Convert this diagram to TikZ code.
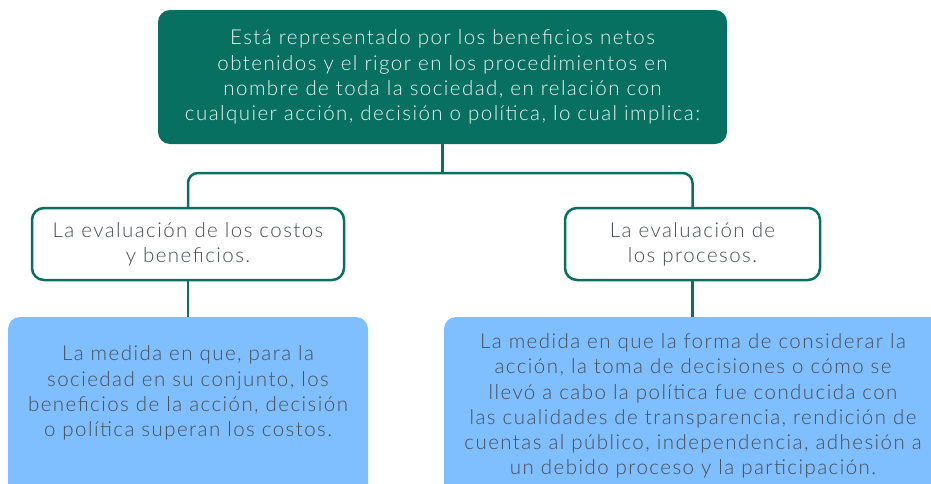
\documentclass[tikz,border=0pt]{standalone}
\usepackage{fontspec}
\setmainfont{Lato Light}[LetterSpace=7]
\usetikzlibrary{positioning}
\definecolor{teal}{RGB}{8,112,96}
\definecolor{skyb}{RGB}{127,190,255}
\definecolor{txtg}{RGB}{75,80,84}
\definecolor{lighttxt}{RGB}{235,242,240}
\begin{document}
\begin{tikzpicture}[x=1pt,y=-1pt,
  topbox/.style={draw=none,fill=teal,rounded corners=12pt,minimum width=569pt,minimum height=134pt,inner sep=0pt},
  midbox/.style={draw=teal,line width=2.5pt,fill=white,rounded corners=12pt,inner sep=0pt,align=center,text=txtg,font=\fontsize{20.5}{25.3}\selectfont},
  lowbox/.style={draw=none,fill=skyb,rounded corners=12pt,inner sep=0pt},
  txt/.style={align=center,font=\fontsize{20.5}{25.3}\selectfont,inner sep=0pt},
  conn/.style={draw=teal,line width=2.5pt}]
\useasboundingbox (0,0) rectangle (931,483);
\node[topbox] (top) at (442.5,77) {};
\node[txt,text=lighttxt] (toptxt) at (442.5,77) {Está representado por los beneficios netos\\obtenidos y el rigor en los procedimientos en\\nombre de toda la sociedad, en relación con\\cualquier acción, decisión o política, lo cual implica:};
\node[midbox,minimum width=312pt,minimum height=72pt] (l2) at (188,244) {La evaluación de los costos\\y beneficios.};
\node[midbox,minimum width=255pt,minimum height=72pt] (r2) at (692.5,244) {La evaluación de\\los procesos.};
\node[lowbox,minimum width=360pt,minimum height=200pt] (l3) at (188,417) {};
\node[lowbox,minimum width=520pt,minimum height=200pt] (r3) at (704,417) {};
\node[txt,text=txtg] (l3txt) at (188,393) {La medida en que, para la\\sociedad en su conjunto, los\\beneficios de la acción, decisión\\o política superan los costos.};
\node[txt,text=txtg] (r3txt) at (693,406) {La medida en que la forma de considerar la\\acción, la toma de decisiones o cómo se\\llevó a cabo la política fue conducida con\\las cualidades de transparencia, rendición de\\cuentas al público, independencia, adhesión a\\un debido proceso y la participación.};
\coordinate (hub) at (442.5,173);
\draw[conn] (top.south) -- (hub);
\draw[conn,rounded corners=10pt] (l2.north) |- (hub) -| (r2.north);
\draw[conn] (l2.south) -- (l3.north);
\draw[conn] (r2.south) -- (r3.north -| r2.south);
\end{tikzpicture}
\end{document}
